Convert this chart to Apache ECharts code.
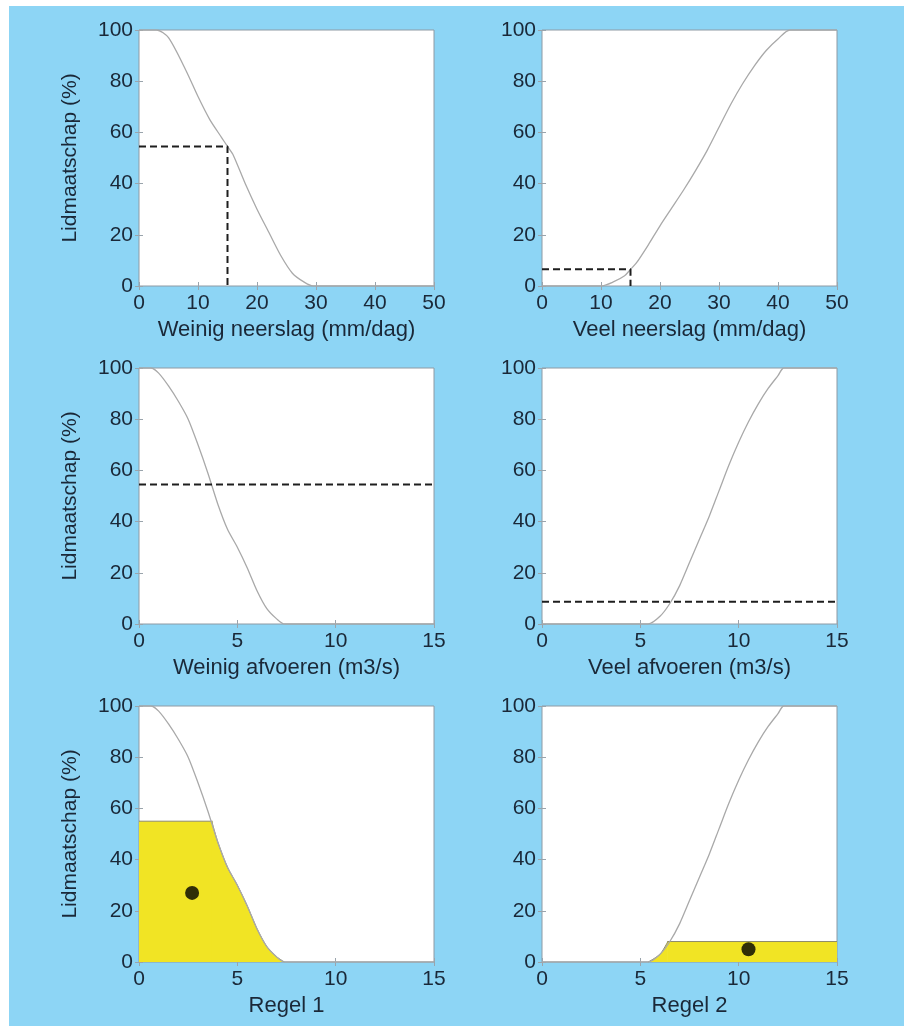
<!DOCTYPE html>
<html>
<head>
<meta charset="utf-8">
<script src="https://cdn.jsdelivr.net/npm/echarts@6/dist/echarts.min.js"></script>
<style>
html,body{margin:0;padding:0;background:#fff;}
#bg{position:absolute;left:9px;top:6px;width:895px;height:1020px;background:#8dd5f5;}
#chart{position:absolute;left:0;top:0;width:909px;height:1026px;}
</style>
</head>
<body>
<div id="bg"></div>
<div id="chart"></div>
<script>
// ---- data ----
const yTicks = [0, 20, 40, 60, 80, 100];
const xNames = ['Weinig neerslag (mm/dag)', 'Veel neerslag (mm/dag)', 'Weinig afvoeren (m3/s)', 'Veel afvoeren (m3/s)', 'Regel 1', 'Regel 2'];
const yName = 'Lidmaatschap (%)';

const weinigNeerslagX = [0, 3, 5, 8, 10, 12, 14, 15, 16, 18, 20, 22, 24, 26, 28, 29.5, 50];
const weinigNeerslagY = [100, 100, 97, 84, 74, 65, 58, 54.5, 51, 40, 30, 21, 12, 5, 1.5, 0, 0];

const veelNeerslagX = [0, 10, 12, 14, 15, 16, 18, 20, 22, 24, 26, 28, 30, 32, 34, 36, 38, 40, 42, 50];
const veelNeerslagY = [0, 0, 1.5, 4, 6.5, 9, 16, 23.5, 30.5, 37.5, 45, 53, 62, 71, 79, 86, 92, 96.5, 100, 100];

const weinigAfvoerenX = [0, 0.6, 1, 1.5, 2, 2.5, 3, 3.5, 4, 4.5, 5, 5.5, 6, 6.5, 7, 7.4, 15];
const weinigAfvoerenY = [100, 100, 98, 93, 87, 80, 70, 59, 47, 37, 30, 22, 13, 6, 2, 0, 0];

const veelAfvoerenX = [0, 5.4, 6, 6.5, 7, 7.5, 8, 8.5, 9, 9.5, 10, 10.5, 11, 11.5, 12, 12.3, 15];
const veelAfvoerenY = [0, 0, 3, 8, 15, 24, 33, 42, 52, 62, 71, 79, 86, 92, 97, 100, 100];

// dashed reading lines
const dash1X = [0, 15, 15];   const dash1Y = [54.5, 54.5, 0];
const dash2X = [0, 15, 15];   const dash2Y = [6.5, 6.5, 0];
const dash3X = [0, 15];       const dash3Y = [54.5, 54.5];
const dash4X = [0, 15];       const dash4Y = [8.7, 8.7];

// clipped (yellow) areas: flat cap part and curve part
const regel1CapX = [0, 3.74];                const regel1CapY = [55, 55];
const regel1SlopeX = [3.7, 4, 4.5, 5, 5.5, 6, 6.5, 7, 7.4];
const regel1SlopeY = [55, 47, 37, 30, 22, 13, 6, 2, 0];
const regel2SlopeX = [5.4, 6, 6.4];          const regel2SlopeY = [0, 3, 8];
const regel2CapX = [6.37, 15];               const regel2CapY = [8, 8];

// centroids
const regel1Dot = [2.7, 27];
const regel2Dot = [10.5, 5];

// ---- build ----
const zip = (xs, ys) => xs.map((x, i) => [x, ys[i]]);
const FONT = "'Liberation Sans', Arial, Helvetica, sans-serif";
const TXT = '#1a2838';
const lefts = [139, 542];
const tops = [30, 368, 706];
const W = 295, H = 256;
const xMax = [50, 50, 15, 15, 15, 15];
const xInt = [10, 10, 5, 5, 5, 5];

const grids = [], xAxes = [], yAxes = [], series = [];
for (let i = 0; i < 6; i++) {
  const col = i % 2, row = Math.floor(i / 2);
  grids.push({left: lefts[col], top: tops[row], width: W, height: H,
    show: true, backgroundColor: '#ffffff', borderColor: '#8e9aa4', borderWidth: 1});
  const tick = {show: true, inside: true, length: 4, lineStyle: {color: '#9aa4ac', width: 1}};
  xAxes.push({gridIndex: i, type: 'value', min: 0, max: xMax[i], interval: xInt[i], position: 'bottom',
    axisLine: {show: false}, axisTick: tick, splitLine: {show: false},
    axisLabel: {color: TXT, fontSize: 21, fontFamily: FONT, margin: 7},
    name: xNames[i], nameLocation: 'middle', nameGap: 33,
    nameTextStyle: {color: TXT, fontSize: 22, fontFamily: FONT}});
  xAxes.push({gridIndex: i, type: 'value', min: 0, max: xMax[i], interval: xInt[i], position: 'top',
    axisLine: {show: false}, axisTick: tick, splitLine: {show: false}, axisLabel: {show: false}});
  yAxes.push({gridIndex: i, type: 'value', min: 0, max: 100, interval: 20, position: 'left',
    axisLine: {show: false}, axisTick: tick, splitLine: {show: false},
    axisLabel: {color: TXT, fontSize: 21, fontFamily: FONT, margin: 6},
    name: col === 0 ? yName : '', nameLocation: 'middle', nameGap: 58,
    nameTextStyle: {color: TXT, fontSize: 21, fontFamily: FONT}});
  yAxes.push({gridIndex: i, type: 'value', min: 0, max: 100, interval: 20, position: 'right',
    axisLine: {show: false}, axisTick: tick, splitLine: {show: false}, axisLabel: {show: false}});
}

const curveStyle = {color: '#a9a9a9', width: 1.3};
function curve(i, xs, ys) {
  series.push({type: 'line', xAxisIndex: 2 * i, yAxisIndex: 2 * i, data: zip(xs, ys),
    smooth: 0.25,
    showSymbol: false, symbol: 'none', lineStyle: curveStyle, z: 3, silent: true});
}
function dashed(i, xs, ys) {
  series.push({type: 'line', xAxisIndex: 2 * i, yAxisIndex: 2 * i, data: zip(xs, ys),
    symbol: 'none', lineStyle: {color: '#1e1e1e', width: 2, type: [7, 4]}, z: 4, silent: true});
}
function fill(i, xs, ys, smooth, z) {
  series.push({type: 'line', xAxisIndex: 2 * i, yAxisIndex: 2 * i, data: zip(xs, ys),
    smooth: smooth ? 0.25 : false,
    symbol: 'none', lineStyle: {color: '#8f8c6a', width: 1},
    areaStyle: {color: '#f1e424', opacity: 1}, z: z, silent: true});
}
function dot(i, p) {
  series.push({type: 'scatter', xAxisIndex: 2 * i, yAxisIndex: 2 * i, data: [p],
    symbol: 'circle', symbolSize: 14, itemStyle: {color: '#000'}, z: 5, silent: true});
}

curve(0, weinigNeerslagX, weinigNeerslagY); dashed(0, dash1X, dash1Y);
curve(1, veelNeerslagX, veelNeerslagY);     dashed(1, dash2X, dash2Y);
curve(2, weinigAfvoerenX, weinigAfvoerenY); dashed(2, dash3X, dash3Y);
curve(3, veelAfvoerenX, veelAfvoerenY);     dashed(3, dash4X, dash4Y);
fill(4, regel1CapX, regel1CapY, false, 1); fill(4, regel1SlopeX, regel1SlopeY, true, 2);
curve(4, weinigAfvoerenX, weinigAfvoerenY); dot(4, regel1Dot);
fill(5, regel2SlopeX, regel2SlopeY, true, 2); fill(5, regel2CapX, regel2CapY, false, 1);
curve(5, veelAfvoerenX, veelAfvoerenY); dot(5, regel2Dot);

const chart = echarts.init(document.getElementById('chart'), null, {renderer: 'canvas'});
chart.setOption({
  backgroundColor: 'transparent',
  animation: false,
  grid: grids, xAxis: xAxes, yAxis: yAxes, series: series
});
</script>
</body>
</html>
